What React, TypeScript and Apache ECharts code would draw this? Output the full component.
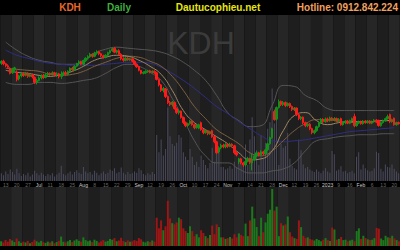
import React, { useEffect, useRef } from 'react';
import * as echarts from 'echarts';

const weekLabels = ['13','20','27','Jul','11','18','25','Aug','8','15','22','29','Sep','12','19','26','Oct','10','17','24','Nov','7','14','21','28','Dec','12','19','26','2023','9','16','Feb','6','13','20'];
const monthLabels = ['Jul','Aug','Sep','Oct','Nov','Dec','2023','Feb'];

const opens = [
  38.4,38.8,38.3,37.9,37.4, 36.5,37.1,36.6,35.3,35.9, 36.3,36.0,36.4,35.8,36.1, 35.6,34.6,35.0,35.5,35.9,
  35.6,36.1,36.4,36.2,36.5, 36.1,36.3,35.8,36.2,36.5, 36.2,36.8,37.4,37.1,37.8, 38.3,38.7,38.2,38.9,39.4,
  39.7,40.2,39.8,40.4,40.7, 40.3,39.9,39.6,40.0,40.5, 40.9,41.4,40.6,40.9,40.2, 39.3,39.0,39.4,39.1,39.3,
  38.8,38.2,37.7,37.0,36.4, 36.5,36.7,36.9,36.6,36.8, 36.5,35.2,34.1,33.0,33.3, 31.8,30.6,30.2,30.6,29.4,
  28.6,28.9,27.6,26.6,26.0, 26.4,26.9,26.2,25.6,25.5, 26.6,25.2,24.6,25.0,24.4, 25.0,23.8,22.8,20.8,21.6,
  22.1,21.8,22.2,21.9,22.3, 22.0,20.6,18.8,19.4,18.6, 18.2,18.9,19.5,18.6,19.2, 20.0,20.6,20.2,20.8,20.4,
  21.2,22.4,23.6,28.8,27.3, 29.6,30.8,30.2,30.6,30.0, 30.4,29.8,29.2,29.5,28.2, 27.4,27.7,26.6,26.0,26.3,
  25.4,24.6,25.0,25.8,26.6, 27.2,26.8,27.3,27.0,27.5, 27.1,27.4,27.0,27.4,26.2, 26.6,26.9,26.5,27.0,27.8,
  26.0,26.5,26.8,26.4,26.9, 26.6,26.9,26.5,26.8,27.1, 27.0,26.0,26.6,27.0,27.4, 28.2,26.8,27.5,26.2,26.6
];
const closes = [
  38.8,38.3,37.9,37.6,36.4, 37.2,37.5,35.2,35.9,36.3, 36.0,36.4,35.8,36.1,35.7, 34.6,35.0,35.5,35.9,35.6,
  36.1,36.4,36.2,36.5,36.1, 36.3,35.8,36.2,36.5,36.2, 36.8,37.4,37.1,37.8,38.3, 38.7,38.2,38.9,39.4,39.7,
  40.2,39.8,40.4,40.7,40.3, 39.9,39.6,40.0,40.5,40.9, 41.3,40.6,40.9,40.2,39.3, 39.0,39.4,39.1,39.3,38.8,
  38.2,37.7,37.0,36.4,36.6, 36.8,36.9,36.6,36.8,36.5, 35.2,34.1,33.0,33.4,31.8, 30.6,30.2,30.7,29.4,28.6,
  28.9,27.6,26.6,26.0,26.4, 26.9,26.2,25.6,26.0,26.2, 25.2,24.6,25.0,24.4,24.8, 23.8,22.8,20.6,21.6,22.1,
  21.8,22.2,21.9,22.3,22.0, 20.6,20.2,19.4,18.6,18.2, 18.9,19.5,18.7,19.2,20.0, 20.6,20.2,20.8,20.4,21.2,
  22.4,23.6,25.4,27.2,29.6, 30.8,30.2,30.6,30.0,30.4, 29.8,29.2,29.5,28.2,27.4, 27.7,26.6,26.0,26.3,25.4,
  24.6,25.0,25.8,26.6,27.2, 26.8,27.3,27.0,27.5,27.1, 27.4,27.0,27.2,26.2,26.6, 26.9,26.5,27.0,27.4,26.0,
  26.5,26.8,26.4,26.9,26.6, 26.9,26.5,26.8,27.1,26.7, 26.0,26.6,27.0,27.4,27.8, 26.8,27.2,26.2,26.6,26.4
];
const lows = [
  38.1,38.0,37.6,37.3,36.2, 36.3,36.8,34.8,35.0,35.6, 35.7,35.8,35.5,35.6,35.4, 34.3,34.2,34.8,35.2,35.3,
  35.4,35.8,35.9,36.0,35.9, 35.7,35.4,35.3,35.9,36.0, 36.0,36.6,36.9,36.9,37.6, 38.0,38.0,38.0,38.7,39.1,
  39.5,39.5,39.6,40.1,40.0, 39.6,39.3,39.4,39.8,40.3, 40.7,40.4,40.3,40.0,39.0, 38.7,38.8,38.9,38.9,38.6,
  38.0,37.5,36.8,36.2,36.2, 36.3,36.5,36.4,36.4,36.3, 35.0,33.8,32.7,32.6,31.5, 30.3,29.9,29.8,29.2,28.3,
  28.2,27.4,26.3,25.7,25.7, 26.2,26.0,25.3,25.4,25.3, 25.0,24.3,24.4,24.1,24.2, 23.6,22.5,20.4,20.5,21.3,
  21.5,21.5,21.6,21.7,21.7, 20.3,19.9,18.4,18.3,17.8, 17.9,18.7,18.4,17.1,19.0, 19.8,19.9,20.0,20.1,20.2,
  21.0,22.2,23.4,27.0,27.0, 29.4,29.9,29.9,29.7,29.8, 29.5,28.9,28.9,27.9,27.1, 27.1,26.3,25.7,25.7,25.1,
  24.3,24.3,24.8,25.6,26.3, 26.5,26.6,26.7,26.8,26.9, 26.9,26.8,26.8,26.0,26.0, 26.3,26.3,26.3,26.8,25.7,
  25.8,26.3,26.2,26.2,26.4, 26.4,26.3,26.3,26.6,26.5, 25.8,25.8,26.4,26.8,27.2, 26.5,26.6,26.0,26.0,26.2
];
const highs = [
  39.0,39.1,38.5,38.2,37.6, 37.5,37.7,37.0,36.1,36.6, 36.6,36.7,36.6,36.4,36.3, 35.8,35.3,35.8,36.2,36.3,
  36.4,36.7,36.6,36.8,36.7, 36.6,36.5,36.8,36.8,36.9, 37.0,37.6,37.7,38.0,38.5, 39.0,38.9,39.1,39.6,40.0,
  40.5,40.4,40.7,41.0,40.9, 40.5,40.1,40.2,40.7,41.1, 41.5,41.6,41.1,41.2,40.4, 39.6,39.6,39.6,39.5,39.4,
  39.0,38.4,37.9,37.1,36.8, 37.0,37.1,37.1,37.0,37.0, 36.7,35.4,34.3,33.7,33.5, 32.0,30.9,30.9,30.8,29.6,
  29.1,29.0,27.8,26.8,26.6, 27.1,27.0,26.4,26.2,26.4, 26.8,25.4,25.2,25.1,25.0, 25.2,24.0,23.0,21.9,22.4,
  22.4,22.5,22.5,22.6,22.5, 22.2,20.8,19.6,19.6,18.8, 19.1,19.8,19.6,20.4,20.3, 20.9,20.8,21.1,21.0,21.4,
  22.6,23.8,25.6,29.2,29.8, 31.2,31.0,30.9,30.8,30.6, 30.6,30.0,29.7,29.6,28.4, 27.9,27.8,26.8,26.5,26.5,
  25.6,25.2,26.0,26.9,27.5, 27.5,27.6,27.6,27.8,27.7, 27.7,27.6,27.5,27.6,26.8, 27.1,27.1,27.2,27.6,28.4,
  26.7,27.0,27.0,27.1,27.1, 27.1,27.1,27.0,27.3,27.3, 27.2,26.8,27.2,27.6,28.2, 28.4,27.4,27.6,26.8,26.8
];
const volumes = [
  1.2,0.9,1.5,1.1,1.8, 1.4,1.0,1.9,1.2,0.8, 1.1,0.9,1.3,0.7,1.0, 1.6,1.2,0.9,1.3,1.0,
  0.8,1.1,0.9,1.2,0.7, 1.0,1.3,2.4,1.1,0.9, 1.2,1.5,1.0,1.4,1.7, 1.3,1.1,2.2,1.5,1.2,
  1.4,1.0,1.6,1.3,0.9, 1.2,1.5,1.1,1.3,1.8, 1.6,2.0,1.2,1.4,2.1, 1.3,1.0,1.4,1.1,1.2,
  1.5,1.3,2.0,1.7,1.1, 0.9,1.2,1.0,1.4,1.1, 7.2,4.5,6.5,4.0,5.0, 11.5,7.0,5.8,5.5,6.0,
  7.2,6.8,4.5,3.8,3.3, 5.0,3.8,2.5,3.0,2.2, 4.0,3.3,2.5,2.0,2.8, 5.2,3.0,5.5,4.8,2.2,
  2.2,1.8,2.0,2.3,1.9, 3.0,2.2,3.2,2.8,2.5, 5.7,2.5,6.5,10.0,7.0, 4.8,2.5,7.2,3.5,6.0,
  8.2,9.2,14.5,9.0,10.0, 2.5,5.8,5.2,5.5,7.5, 3.5,2.4,2.0,1.8,6.5, 4.8,2.6,2.0,2.2,1.8,
  1.6,1.4,1.8,1.5,1.2, 1.6,2.0,1.5,1.3,4.7, 4.2,1.6,1.8,2.3,1.5, 1.6,1.2,1.4,1.6,1.2,
  3.8,4.5,1.8,2.6,2.0, 1.7,1.5,1.6,2.0,4.6, 4.4,1.9,1.5,2.6,2.2, 2.1,2.6,1.9,1.5,1.2
];
// weekly readings of the indicator lines
const bbUpper = [42.6,41.0,39.8,39.0,38.6,38.2,38.2,39.0,40.4,41.2,41.6,41.4,41.2,41.0,40.6,39.8,38.6,37.0,35.0,32.0,28.6,27.0,25.8,26.0,30.0,34.0,33.8,32.0,31.0,29.4,29.0,29.0,29.0,29.0,29.0,29.0];
const bbLower = [34.6,34.2,34.2,34.6,34.6,34.4,34.6,35.0,35.4,36.4,37.6,38.2,37.8,36.6,35.0,31.4,27.4,23.0,20.0,18.6,18.6,17.4,16.6,16.6,17.0,17.4,18.6,21.0,23.0,23.4,23.8,24.0,24.2,24.2,24.4,24.4];
const ma20 = [37.4,37.2,37.0,36.8,36.2,36.0,36.2,36.8,37.8,38.6,39.4,39.8,39.6,38.8,37.8,35.8,33.0,29.8,27.4,25.2,23.8,22.4,20.6,20.0,21.0,23.0,25.0,26.4,27.2,27.2,26.8,26.6,26.8,26.8,27.0,27.0];
const ma10 = [37.0,36.6,36.4,36.0,35.8,36.2,36.8,37.8,39.0,39.6,40.0,39.8,39.0,37.8,36.2,33.0,29.0,26.6,25.2,23.8,22.4,20.6,19.2,19.4,21.0,25.0,28.0,28.6,27.0,26.2,26.6,26.8,26.8,26.8,27.0,27.0];
const ma50 = [41.0,40.0,39.4,38.8,38.4,38.2,38.0,38.0,38.0,38.2,38.4,38.6,38.6,38.4,37.6,36.4,35.0,33.4,31.6,29.8,28.4,26.8,25.4,24.0,23.0,22.8,23.0,23.2,23.6,24.0,24.4,24.8,25.0,25.2,25.4,25.6];

const FONT = '"Liberation Sans", Arial, sans-serif';

export default function App() {
  const ref = useRef<HTMLDivElement>(null);
  useEffect(() => {
    if (!ref.current) return;
    const chart = echarts.init(ref.current, undefined, { renderer: 'svg' });
    const idx = opens.map((_, i) => String(i));
    const candles = opens.map((o, i) => [o, closes[i], lows[i], highs[i]]);
    const volColored = volumes.map((v, i) => ({
      value: v,
      itemStyle: { color: closes[i] >= opens[i] ? '#1d781d' : '#9c1616' },
    }));
    const stripes = { show: true, interval: 0, areaStyle: { color: ['#1e1e1e', '#262626'] } };
    const line = (data: number[], color: string) => ({
      type: 'line', xAxisIndex: 1, yAxisIndex: 0, data, smooth: true, symbol: 'none', z: 3,
      lineStyle: { color, width: 1 },
    });
    chart.setOption({
      animation: false,
      backgroundColor: '#000',
      textStyle: { fontFamily: FONT },
      grid: [
        { left: 0, right: 0, top: 15, height: 166 },
        { left: 0, right: 0, top: 187, height: 59 },
      ],
      xAxis: [
        { type: 'category', gridIndex: 0, data: idx, show: false },
        {
          type: 'category', gridIndex: 0, data: weekLabels, position: 'bottom',
          axisLine: { show: false }, axisTick: { show: false }, splitLine: { show: false },
          splitArea: stripes,
          axisLabel: {
            interval: 0, margin: 1, fontSize: 5,
            formatter: (v: string) => (monthLabels.includes(v) ? `{m|${v}}` : `{d|${v}}`),
            rich: {
              m: { color: '#cccccc', fontSize: 5, fontFamily: FONT },
              d: { color: '#6a6a6a', fontSize: 5, fontFamily: FONT },
            },
          },
        },
        { type: 'category', gridIndex: 1, data: idx, show: false },
        {
          type: 'category', gridIndex: 1, data: weekLabels, position: 'bottom',
          axisLine: { show: false }, axisTick: { show: false }, axisLabel: { show: false },
          splitLine: { show: false }, splitArea: stripes,
        },
      ],
      yAxis: [
        { type: 'value', gridIndex: 0, min: 15, max: 48, show: false },
        { type: 'value', gridIndex: 0, min: 0, max: 26, show: false },
        { type: 'value', gridIndex: 1, min: 0, max: 15, show: false },
      ],
      graphic: [
        { type: 'text', x: 201, y: 43, z: 1, silent: true,
          style: { text: 'KDH', fill: '#3b3b3b', font: `32px ${FONT}`, align: 'center', verticalAlign: 'middle' } },
        { type: 'text', x: 70, y: 7, z: 10,
          style: { text: 'KDH', fill: '#e8682c', font: `bold 10px ${FONT}`, align: 'center', verticalAlign: 'middle' } },
        { type: 'text', x: 119, y: 7, z: 10,
          style: { text: 'Daily', fill: '#3fae3f', font: `bold 10px ${FONT}`, align: 'center', verticalAlign: 'middle' } },
        { type: 'text', x: 218, y: 7, z: 10,
          style: { text: 'Dautucophieu.net', fill: '#e6e614', font: `bold 10px ${FONT}`, align: 'center', verticalAlign: 'middle' } },
        { type: 'text', x: 398, y: 7, z: 10,
          style: { text: 'Hotline: 0912.842.224', fill: '#f0a060', font: `bold 10px ${FONT}`, align: 'right', verticalAlign: 'middle' } },
      ],
      series: [
        { type: 'bar', xAxisIndex: 0, yAxisIndex: 1, data: volumes, barWidth: 1, z: 2,
          itemStyle: { color: '#4a4a5e' } },
        line(bbUpper, '#555555'),
        line(bbLower, '#555555'),
        line(ma50, '#2e2e86'),
        line(ma20, '#7d5f40'),
        line(ma10, '#a08662'),
        { type: 'candlestick', xAxisIndex: 0, yAxisIndex: 0, data: candles, barWidth: 2, z: 4,
          itemStyle: { color: '#14901a', color0: '#ff1a1a', borderColor: '#14901a', borderColor0: '#ff1a1a', borderWidth: 1 } },
        { type: 'bar', xAxisIndex: 2, yAxisIndex: 2, data: volColored, barWidth: 2, z: 2 },
      ],
    });
    return () => chart.dispose();
  }, []);
  return <div ref={ref} style={{ position: 'fixed', left: 0, top: 0, width: 400, height: 250 }} />;
}
